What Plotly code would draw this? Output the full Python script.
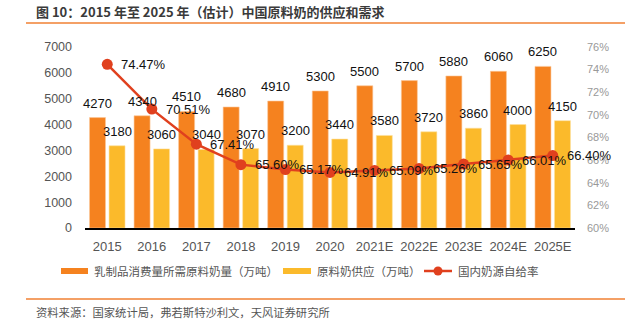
import plotly.graph_objects as go

categories = ["2015", "2016", "2017", "2018", "2019", "2020", "2021E", "2022E", "2023E", "2024E", "2025E"]
demand = [4270, 4340, 4510, 4680, 4910, 5300, 5500, 5700, 5880, 6060, 6250]
supply = [3180, 3060, 3040, 3070, 3200, 3440, 3580, 3720, 3860, 4000, 4150]
self_rate = [74.47, 70.51, 67.41, 65.60, 65.17, 64.91, 65.09, 65.26, 65.65, 66.01, 66.40]
series_names = ["乳制品消费量所需原料奶量（万吨）", "原料奶供应（万吨）", "国内奶源自给率"]

ORANGE = "#F5821F"
YELLOW = "#FBBA2B"
RED = "#E0401E"
NUMFONT = "Liberation Sans, Noto Sans CJK SC, sans-serif"
CJK = "Noto Sans CJK SC, Liberation Sans, sans-serif"

W, H = 630, 328
L, R, T, B = 85, 55, 47, 100
PW, PH = W - L - R, H - T - B

def px(x):
    return (x - L) / PW

def py(y):
    return (H - B - y) / PH

fig = go.Figure()
fig.add_bar(x=categories, y=demand, name=series_names[0],
            marker=dict(color=ORANGE, line=dict(color="#FBC89A", width=0.6)))
fig.add_bar(x=categories, y=supply, name=series_names[1],
            marker=dict(color=YELLOW, line=dict(color="#FDE0A0", width=0.6)))
fig.add_scatter(x=categories, y=self_rate, name=series_names[2], yaxis="y2",
                mode="lines+markers", line=dict(color=RED, width=2.5),
                marker=dict(color=RED, size=11), cliponaxis=False)

ann = []
# category axis: annotation x given as category index
for i, v in enumerate(demand):
    ann.append(dict(x=i, y=v, xref="x", yref="y", text=str(v), showarrow=False,
                    xshift=-9.75, yshift=5, yanchor="bottom", xanchor="center",
                    font=dict(size=13, color="#111", family=NUMFONT)))
for i, v in enumerate(supply):
    ann.append(dict(x=i, y=v, xref="x", yref="y", text=str(v), showarrow=False,
                    xshift=9.75, yshift=5, yanchor="bottom", xanchor="center",
                    font=dict(size=13, color="#111", family=NUMFONT)))
for i, v in enumerate(self_rate):
    ann.append(dict(x=i, y=v, xref="x", yref="y2", text=f"{v:.2f}%", showarrow=False,
                    xshift=12, yanchor="middle", xanchor="left",
                    font=dict(size=13, color="#111", family=NUMFONT)))

ann.append(dict(x=px(34), y=py(11), xref="paper", yref="paper", showarrow=False,
                xanchor="left", yanchor="middle",
                text="<b>图 10：2015 年至 2025 年（估计）中国原料奶的供应和需求</b>",
                font=dict(size=13, color="#3a3a3a", family=CJK)))
ann.append(dict(x=px(34), y=py(312), xref="paper", yref="paper", showarrow=False,
                xanchor="left", yanchor="middle",
                text="资料来源：国家统计局，弗若斯特沙利文，天风证券研究所",
                font=dict(size=11.3, color="#555", family=CJK)))

# custom legend (wide swatches like the reference)
LEG_Y = 271
legend_text_x = [92, 315, 456]
for name, tx in zip(series_names, legend_text_x):
    ann.append(dict(x=px(tx), y=py(LEG_Y), xref="paper", yref="paper", showarrow=False,
                    xanchor="left", yanchor="middle", text=name,
                    font=dict(size=11.5, color="#555", family=CJK)))

shapes = [
    dict(type="line", xref="paper", yref="paper", x0=px(26), x1=px(625), y0=py(23), y1=py(23),
         line=dict(color="#F4A066", width=2)),
    dict(type="line", xref="paper", yref="paper", x0=px(26), x1=px(625), y0=py(299), y1=py(299),
         line=dict(color="#F4A066", width=2)),
    dict(type="rect", xref="paper", yref="paper", x0=px(61), x1=px(88), y0=py(LEG_Y - 3), y1=py(LEG_Y + 3),
         fillcolor=ORANGE, line=dict(width=0)),
    dict(type="rect", xref="paper", yref="paper", x0=px(283), x1=px(311), y0=py(LEG_Y - 3), y1=py(LEG_Y + 3),
         fillcolor=YELLOW, line=dict(width=0)),
    dict(type="line", xref="paper", yref="paper", x0=px(424), x1=px(452), y0=py(LEG_Y), y1=py(LEG_Y),
         line=dict(color=RED, width=2.5)),
    dict(type="circle", xref="paper", yref="paper", x0=px(433.5), x1=px(442.5), y0=py(LEG_Y - 4.5), y1=py(LEG_Y + 4.5),
         fillcolor=RED, line=dict(width=0)),
]

fig.update_layout(
    width=W, height=H,
    margin=dict(l=L, r=R, t=T, b=B, pad=0),
    paper_bgcolor="white", plot_bgcolor="white",
    barmode="group", bargap=0.124, bargroupgap=0.18,
    font=dict(family=NUMFONT, color="#555"),
    showlegend=False,
    xaxis=dict(type="category", range=[-0.5, len(categories) - 0.5], autorange=False,
               showline=True, linecolor="#000", linewidth=1.5, showgrid=False,
               ticks="", tickfont=dict(size=13, color="#555"), ticklabelstandoff=6),
    yaxis=dict(range=[0, 7000], dtick=1000, showgrid=False, zeroline=False,
               ticks="", tickfont=dict(size=12.5, color="#555"), ticklabelstandoff=12),
    yaxis2=dict(range=[60, 76], dtick=2, overlaying="y", side="right", showgrid=False,
                zeroline=False, ticks="", ticksuffix="%", tickformat="d",
                tickfont=dict(size=11, color="#999"), ticklabelstandoff=11),
    annotations=ann, shapes=shapes,
)

fig.write_html("out.html")
